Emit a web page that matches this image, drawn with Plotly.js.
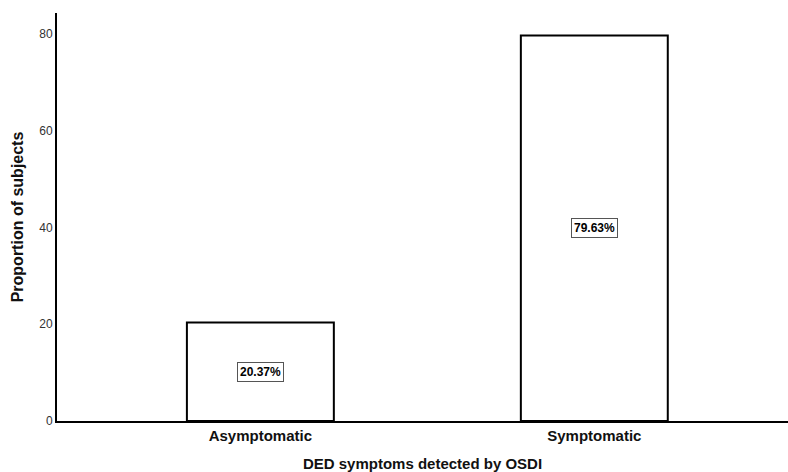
<!DOCTYPE html>
<html>
<head>
<meta charset="utf-8">
<script src="https://cdn.plot.ly/plotly-3.0.1.min.js"></script>
<style>html,body{margin:0;padding:0;background:#fff;}#chart{width:788px;height:472px;}</style>
</head>
<body>
<div id="chart"></div>
<script>
const categories = ["Asymptomatic", "Symptomatic"];
const proportions = [20.37, 79.63];
const labels = ["20.37%", "79.63%"];
const yTicks = [0, 20, 40, 60, 80];

const trace = {
  type: "bar",
  x: categories,
  y: proportions,
  width: 0.44,
  marker: {color: "#ffffff", line: {color: "#000000", width: 2}},
  hoverinfo: "none"
};

const annotations = categories.map((c, i) => ({
  x: c, y: proportions[i] / 2, xref: "x", yref: "y",
  text: "<b>" + labels[i] + "</b>",
  showarrow: false,
  font: {family: "Liberation Sans Narrow, Arial Narrow, Liberation Sans, Arial", size: 12, color: "#000"},
  bgcolor: "#ffffff",
  bordercolor: "#555555",
  borderwidth: 1,
  borderpad: 2
}));

const layout = {
  width: 788, height: 472,
  margin: {l: 57, r: 0, t: 13, b: 51},
  paper_bgcolor: "#fff", plot_bgcolor: "#fff",
  showlegend: false,
  font: {family: "Liberation Sans, Arial, sans-serif", color: "#222"},
  xaxis: {
    type: "category",
    range: [-0.609, 1.58],
    showline: true, linecolor: "#000", linewidth: 2,
    showgrid: false, zeroline: false, ticks: "",
    tickfont: {size: 15, color: "#111", weight: "bold"},
    title: {text: "<b>DED symptoms detected by OSDI</b>", font: {size: 15, color: "#111"}, standoff: 19}
  },
  yaxis: {
    range: [0, 84.3],
    tickvals: yTicks,
    showline: true, linecolor: "#000", linewidth: 2,
    showgrid: false, zeroline: false, ticks: "",
    tickfont: {size: 12, color: "#333"},
    title: {text: "<b>Proportion of subjects</b>", font: {size: 16, color: "#111"}, standoff: 12}
  },
  annotations: annotations
};

Plotly.newPlot("chart", [trace], layout, {staticPlot: true, displayModeBar: false});
</script>
</body>
</html>
